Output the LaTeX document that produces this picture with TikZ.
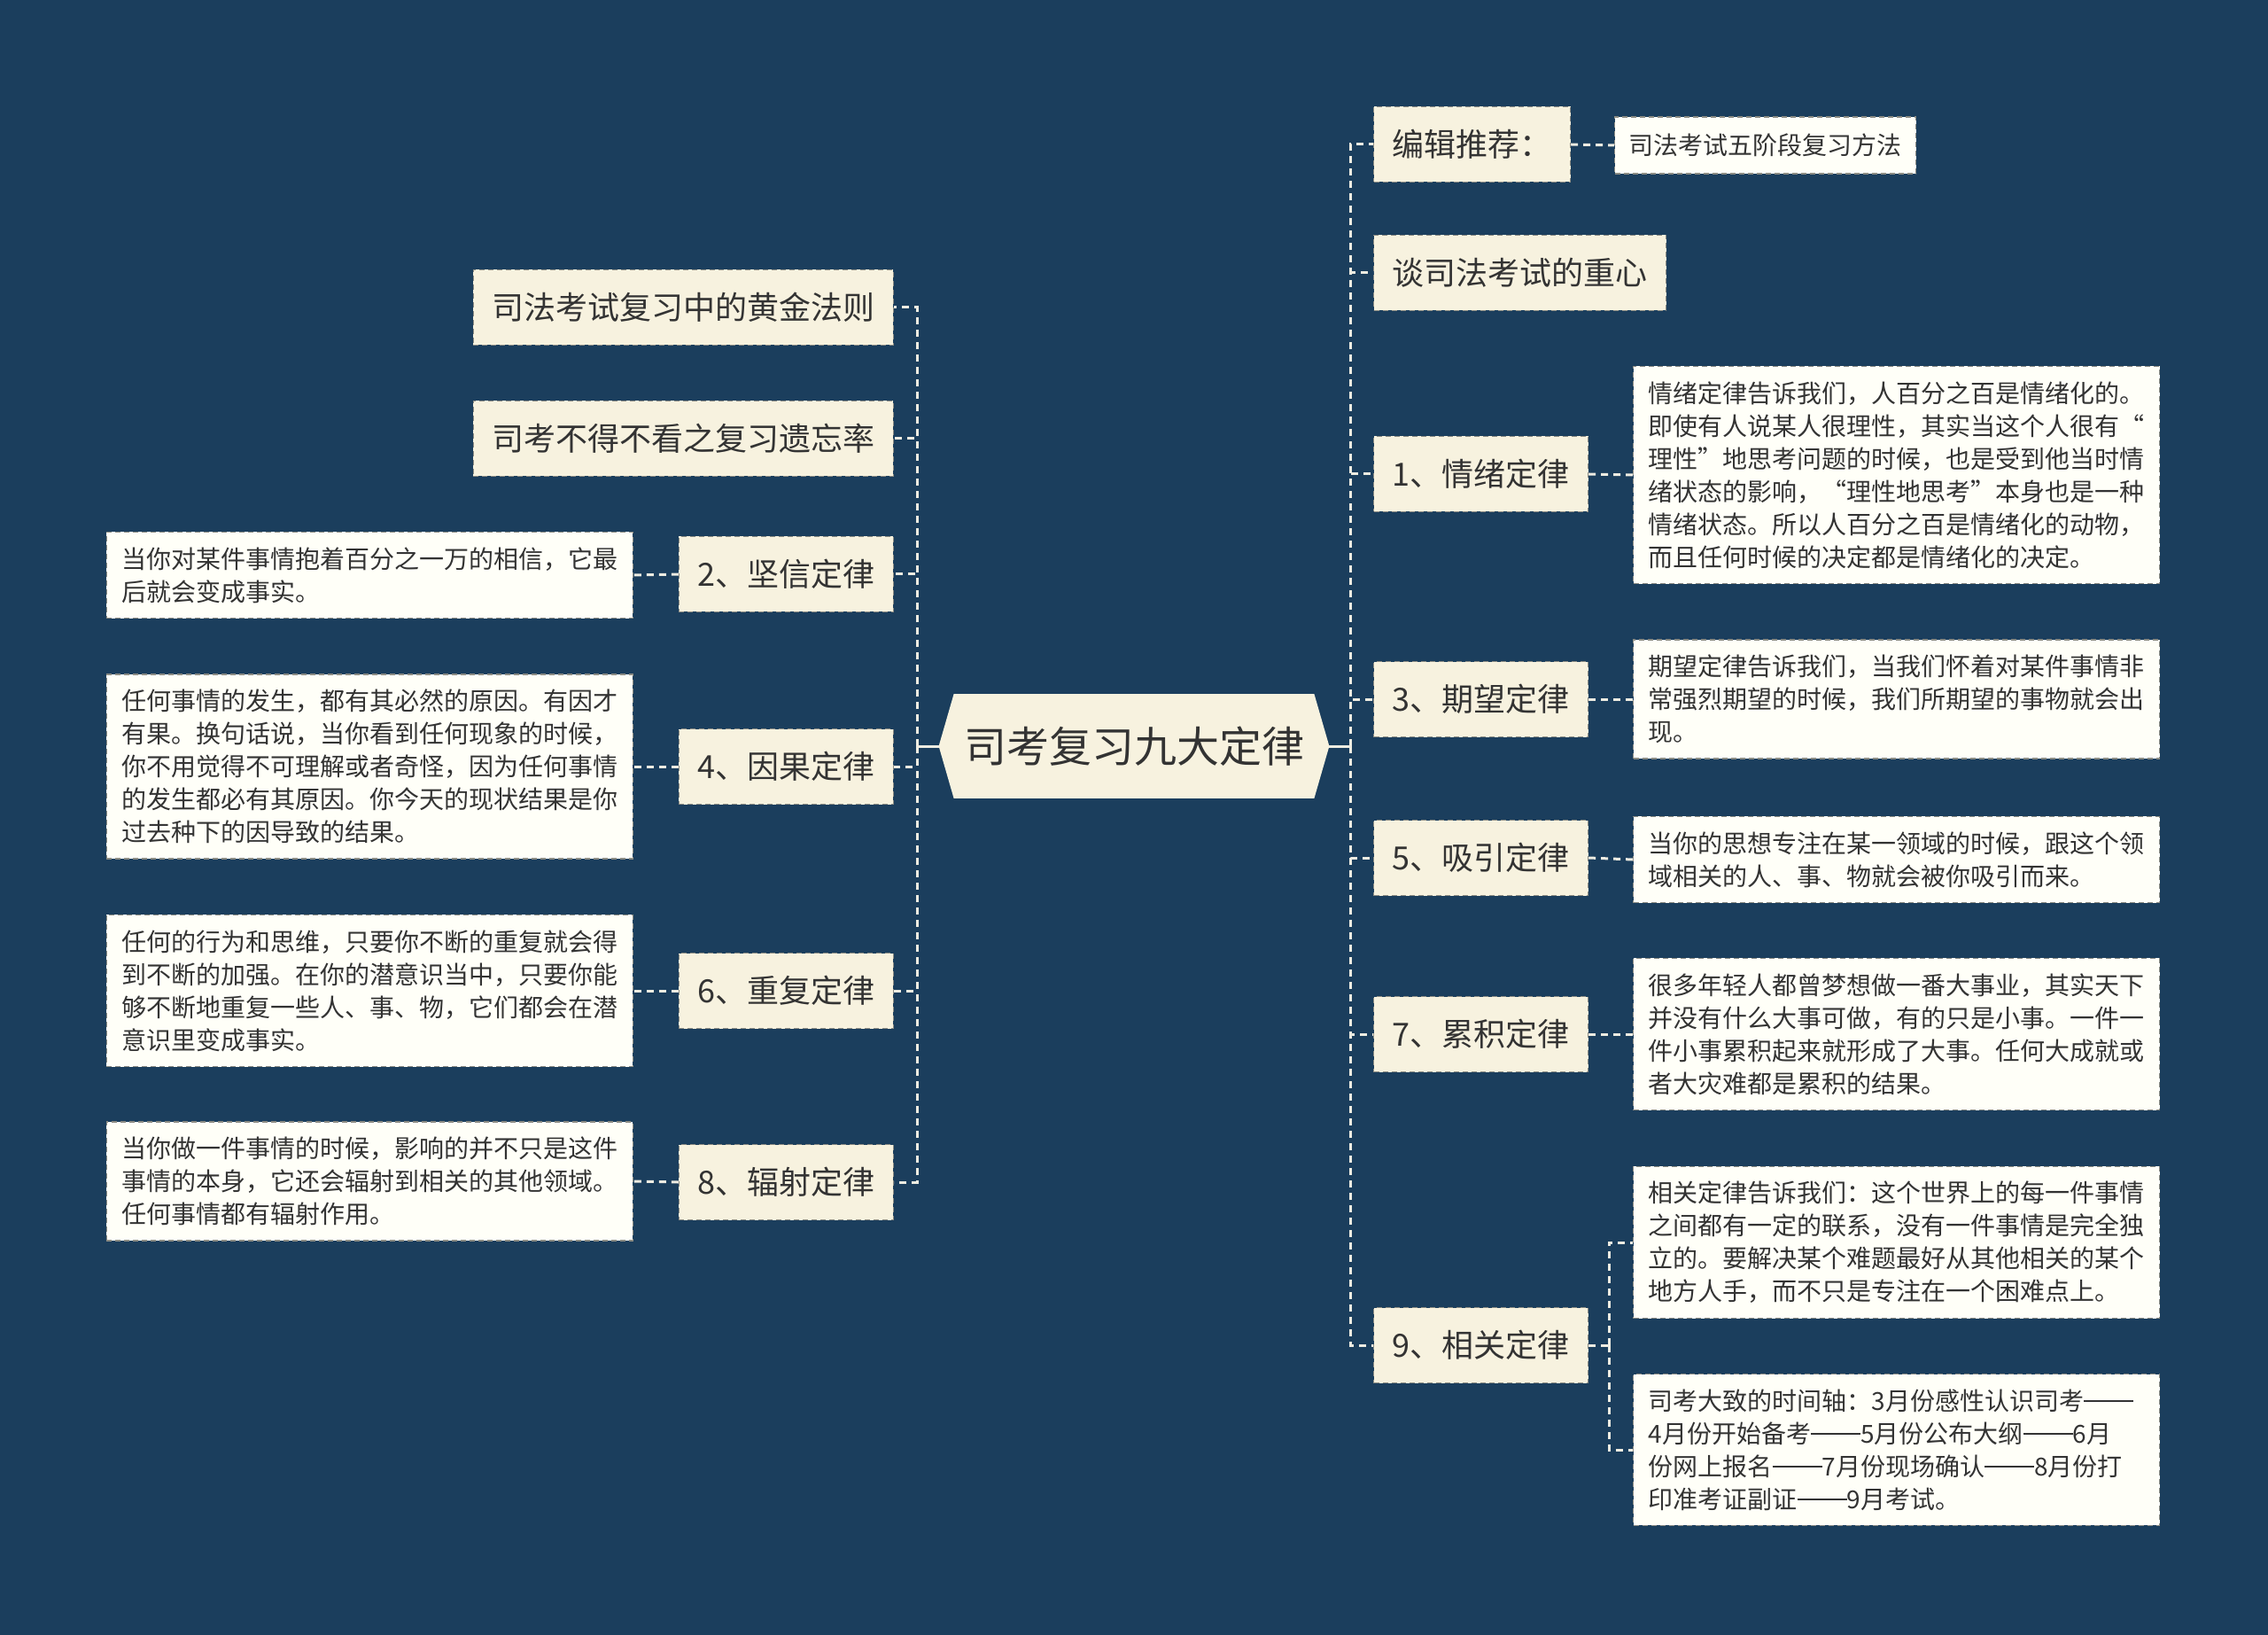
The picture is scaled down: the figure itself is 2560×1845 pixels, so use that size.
\documentclass[tikz,border=0pt]{standalone}
\usepackage{fontspec}
\setmainfont{Noto Sans CJK SC}
\usetikzlibrary{backgrounds}
\definecolor{bgc}{HTML}{1B3E5D}
\definecolor{cream}{HTML}{F7F2DF}
\definecolor{paper}{HTML}{FFFFF8}
\definecolor{ink}{HTML}{333333}
\definecolor{linkc}{HTML}{EEECE2}
\definecolor{bord}{HTML}{8C8C84}
\newcommand\dbldash{\rule[0.33em]{2em}{0.06em}}
\begin{document}
\begin{tikzpicture}[x=0.5pt,y=-0.5pt,
  topic/.style={draw=bord, dash pattern=on 3pt off 2pt, line width=0.6pt, fill=cream, text=ink,
    font=\fontsize{18}{22}\selectfont, inner xsep=10.5pt, inner ysep=0pt, minimum height=42.5pt},
  desc/.style={draw=bord, dash pattern=on 3pt off 2pt, line width=0.6pt, fill=paper, text=ink,
    font=\fontsize{14}{18.5}\selectfont, align=left, text width=280pt, inner xsep=8.5pt, inner ysep=8.5pt},
  small/.style={draw=bord, dash pattern=on 3pt off 2pt, line width=0.6pt, fill=paper, text=ink,
    font=\fontsize{14}{18}\selectfont, inner xsep=8pt, inner ysep=0pt, minimum height=32pt},
  link/.style={draw=linkc, line width=1.5pt, dash pattern=on 4pt off 3pt},
  stem/.style={draw=linkc, line width=1.5pt},
]
\useasboundingbox (0,0) rectangle (2560,1845);

% centre
\node[font=\fontsize{24}{28}\selectfont, text=ink, minimum width=203pt, minimum height=58.5pt, inner sep=0pt] (c) at (1280,842) {司考复习九大定律};
\coordinate (cL) at ([xshift=-8.5pt]c.west);
\coordinate (cR) at ([xshift=8.5pt]c.east);
\begin{scope}[on background layer]
  \fill[bgc] (0,0) rectangle (2560,1845);
  \fill[cream] (cL) -- (c.north west) -- (c.north east) -- (cR) -- (c.south east) -- (c.south west) -- cycle;
\end{scope}

% right topics
\node[topic, anchor=west] (r0) at (1550,163) {编辑推荐：};
\node[small, anchor=west] (r00) at (1822,164) {司法考试五阶段复习方法};
\node[topic, anchor=west] (r1) at (1550,308) {谈司法考试的重心};
\node[topic, anchor=west] (r2) at (1550,535) {1、情绪定律};
\node[topic, anchor=west] (r3) at (1550,789) {3、期望定律};
\node[topic, anchor=west] (r4) at (1550,968) {5、吸引定律};
\node[topic, anchor=west] (r5) at (1550,1167) {7、累积定律};
\node[topic, anchor=west] (r6) at (1550,1518) {9、相关定律};

% right descriptions
\node[desc, anchor=west] (d1) at (1843,536) {情绪定律告诉我们，人百分之百是情绪化的。\\即使有人说某人很理性，其实当这个人很有“\\理性”地思考问题的时候，也是受到他当时情\\绪状态的影响，“理性地思考”本身也是一种\\情绪状态。所以人百分之百是情绪化的动物，\\而且任何时候的决定都是情绪化的决定。};
\node[desc, anchor=west] (d3) at (1843,789) {期望定律告诉我们，当我们怀着对某件事情非\\常强烈期望的时候，我们所期望的事物就会出\\现。};
\node[desc, anchor=west] (d5) at (1843,970) {当你的思想专注在某一领域的时候，跟这个领\\域相关的人、事、物就会被你吸引而来。};
\node[desc, anchor=west] (d7) at (1843,1167) {很多年轻人都曾梦想做一番大事业，其实天下\\并没有什么大事可做，有的只是小事。一件一\\件小事累积起来就形成了大事。任何大成就或\\者大灾难都是累积的结果。};
\node[desc, anchor=west] (d9a) at (1843,1402) {相关定律告诉我们：这个世界上的每一件事情\\之间都有一定的联系，没有一件事情是完全独\\立的。要解决某个难题最好从其他相关的某个\\地方人手，而不只是专注在一个困难点上。};
\node[desc, anchor=west] (d9b) at (1843,1636) {司考大致的时间轴：3月份感性认识司考\dbldash\\4月份开始备考\dbldash 5月份公布大纲\dbldash 6月\\份网上报名\dbldash 7月份现场确认\dbldash 8月份打\\印准考证副证\dbldash 9月考试。};

% left topics
\node[topic, anchor=east] (l1) at (1009,347) {司法考试复习中的黄金法则};
\node[topic, anchor=east] (l2) at (1009,495) {司考不得不看之复习遗忘率};
\node[topic, anchor=east] (l3) at (1009,648) {2、坚信定律};
\node[topic, anchor=east] (l4) at (1009,865) {4、因果定律};
\node[topic, anchor=east] (l5) at (1009,1118) {6、重复定律};
\node[topic, anchor=east] (l6) at (1009,1334) {8、辐射定律};

% left descriptions
\node[desc, anchor=east] (e2) at (715,649) {当你对某件事情抱着百分之一万的相信，它最\\后就会变成事实。};
\node[desc, anchor=east] (e4) at (715,865) {任何事情的发生，都有其必然的原因。有因才\\有果。换句话说，当你看到任何现象的时候，\\你不用觉得不可理解或者奇怪，因为任何事情\\的发生都必有其原因。你今天的现状结果是你\\过去种下的因导致的结果。};
\node[desc, anchor=east] (e6) at (715,1118) {任何的行为和思维，只要你不断的重复就会得\\到不断的加强。在你的潜意识当中，只要你能\\够不断地重复一些人、事、物，它们都会在潜\\意识里变成事实。};
\node[desc, anchor=east] (e8) at (715,1333) {当你做一件事情的时候，影响的并不只是这件\\事情的本身，它还会辐射到相关的其他领域。\\任何事情都有辐射作用。};

% connectors
\coordinate (rt) at (1524,842);
\coordinate (lt) at (1035,842);
\coordinate (s9) at (1816,1518);
\draw[stem] (cR) -- (rt);
\draw[stem] (cL) -- (lt);
\foreach \n in {r0,r1,r2,r3,r4,r5,r6} \draw[link] (rt) |- (\n.west);
\foreach \n in {l1,l2,l3,l4,l5,l6} \draw[link] (lt) |- (\n.east);
\draw[link] (r0.east) -- (r00.west);
\draw[link] (r2.east) -- (d1.west);
\draw[link] (r3.east) -- (d3.west);
\draw[link] (r4.east) -- (d5.west);
\draw[link] (r5.east) -- (d7.west);
\draw[link] (r6.east) -- (s9);
\draw[link] (s9) |- (d9a.west);
\draw[link] (s9) |- (d9b.west);
\draw[link] (l3.west) -- (e2.east);
\draw[link] (l4.west) -- (e4.east);
\draw[link] (l5.west) -- (e6.east);
\draw[link] (l6.west) -- (e8.east);
\end{tikzpicture}
\end{document}
